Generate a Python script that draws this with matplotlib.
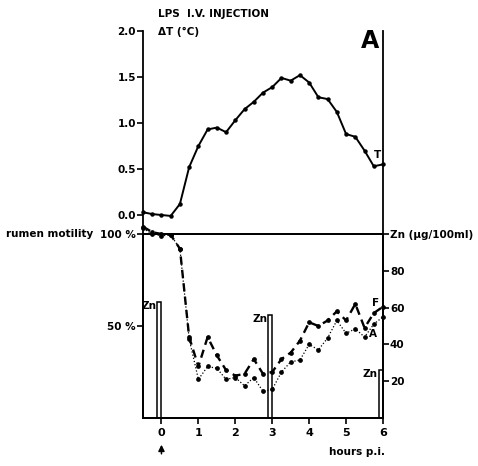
import matplotlib
matplotlib.use('Agg')
import matplotlib.pyplot as plt

# ---------------- data ----------------
hours = [-0.5, -0.25, 0.0, 0.25, 0.5, 0.75, 1.0, 1.25, 1.5, 1.75, 2.0, 2.25, 2.5,
         2.75, 3.0, 3.25, 3.5, 3.75, 4.0, 4.25, 4.5, 4.75, 5.0, 5.25, 5.5, 5.75, 6.0]

delta_T = [0.03, 0.01, 0.00, -0.01, 0.12, 0.52, 0.75, 0.93, 0.95, 0.90, 1.03, 1.15, 1.23,
           1.33, 1.39, 1.49, 1.46, 1.52, 1.44, 1.28, 1.26, 1.12, 0.88, 0.85, 0.70, 0.53, 0.55]

motility_F = [104, 101, 100, 99.5, 92, 44, 28, 44, 34, 26, 23, 24, 32,
              24, 25, 32, 35.5, 42, 52, 50, 53, 58, 53, 62, 49, 57, 60.5]

motility_A = [103, 100, 99, 99.5, 92, 43, 21, 28, 27, 21, 22, 17.5, 22,
              14.5, 15.5, 25, 30.5, 31.5, 40, 37, 43.5, 53, 46, 48.5, 44, 51, 55]

zn_times = [0, 3, 6]
zn_values = [63, 56, 26]

x_ticks = [0, 1, 2, 3, 4, 5, 6]
t_ticks = [0.0, 0.5, 1.0, 1.5, 2.0]
t_ticklabels = ['0.0', '0.5', '1.0', '1.5', '2.0']
mot_ticks = [50, 100]
mot_ticklabels = ['50 %', '100 %']
zn_ticks = [20, 40, 60, 80, 100]
zn_ticklabels = ['20', '40', '60', '80', 'Zn (µg/100ml)']

# ---------------- figure ----------------
plt.rcParams['font.family'] = ['DejaVu Sans']
plt.rcParams['font.weight'] = 'bold'
FS = 7.5
W, H = 478, 466
fig = plt.figure(figsize=(W / 100, H / 100), dpi=100)

def fx(px):
    return px / W

def fy(py):
    return 1 - py / H

left_px, right_px = 143, 383
top_px, mid_px, bot_px = 31, 234, 418
xlim = (-0.5, 6.0)

# top panel (temperature)
axT = fig.add_axes([fx(left_px), fy(mid_px), fx(right_px) - fx(left_px), fy(top_px) - fy(mid_px)])
axT.set_xlim(*xlim)
axT.set_ylim(-(mid_px - 215) / 92.0, 2.0)
axT.plot(hours, delta_T, color='black', lw=1.4, marker='o', ms=2.2, clip_on=False, zorder=5)
for s in ['top', 'bottom']:
    axT.spines[s].set_visible(False)
axT.spines['left'].set_linewidth(1.3)
axT.spines['right'].set_linewidth(1.3)
axT.set_xticks([])
axT.set_yticks(t_ticks)
axT.set_yticklabels(t_ticklabels, fontsize=FS, fontweight='bold')
axT.tick_params(axis='y', direction='out', length=4, width=1.2, pad=1)
axT.patch.set_visible(False)
axT.text(5.84, 0.65, 'T', fontsize=FS, fontweight='bold', ha='center', va='center')

# lower panel (rumen motility)
ax = fig.add_axes([fx(left_px), fy(bot_px), fx(right_px) - fx(left_px), fy(mid_px) - fy(bot_px)])
ax2 = ax.twinx()
ax.set_zorder(ax2.get_zorder() + 1)
ax.patch.set_visible(False)

ax.set_xlim(*xlim)
ax.set_ylim(0, 100)
ax2.set_ylim(0, 100)

ax.plot(hours, motility_F, color='black', lw=1.7, ls=(0, (3.5, 2.2)), marker='o', ms=2.4,
        clip_on=False, zorder=5)
ax.plot(hours, motility_A, color='black', lw=0.9, ls=(0, (1, 1.6)), marker='o', ms=2.4,
        clip_on=False, zorder=4)

ax2.bar(zn_times, zn_values, width=-0.12, align='edge', facecolor='white',
        edgecolor='black', lw=1.1, zorder=2)
for t, v in zip(zn_times, zn_values):
    ax2.text(t - 0.14, v + 0.5, 'Zn', fontsize=FS, fontweight='bold', ha='right', va='top')

for a in (ax, ax2):
    for s in a.spines.values():
        s.set_linewidth(1.3)

ax.set_xticks(x_ticks)
ax.set_xticklabels([str(t) for t in x_ticks], fontsize=FS + 0.5, fontweight='bold')
ax.tick_params(axis='x', direction='out', length=4, width=1.2, pad=3)
ax.set_yticks(mot_ticks)
ax.set_yticklabels(mot_ticklabels, fontsize=FS, fontweight='bold')
ax.tick_params(axis='y', direction='out', length=4, width=1.2, pad=1)

ax2.set_yticks(zn_ticks)
ax2.set_yticklabels(zn_ticklabels, fontsize=FS, fontweight='bold')
ax2.tick_params(axis='y', direction='out', length=4, width=1.2, pad=1)

ax.text(5.79, 62.5, 'F', fontsize=FS, fontweight='bold', ha='center', va='center')
ax.text(5.72, 45.5, 'A', fontsize=FS, fontweight='bold', ha='center', va='center')

ax.annotate('', xy=(0, -0.13), xytext=(0, -0.21), xycoords=('data', 'axes fraction'),
            textcoords=('data', 'axes fraction'),
            arrowprops=dict(arrowstyle='-|>', color='black', lw=1.1, mutation_scale=9))

# figure texts
fig.text(fx(158), fy(14), 'LPS  I.V. INJECTION', fontsize=FS, fontweight='bold', ha='left', va='center')
fig.text(fx(158), fy(32), 'ΔT (°C)', fontsize=FS, fontweight='bold', ha='left', va='center')
fig.text(fx(370), fy(41), 'A', fontsize=17, fontweight='bold', ha='center', va='center')
fig.text(fx(6), fy(234), 'rumen motility', fontsize=FS, fontweight='bold', ha='left', va='center')
fig.text(fx(357), fy(452), 'hours p.i.', fontsize=FS, fontweight='bold', ha='center', va='center')

fig.savefig('out.png', dpi=100)
